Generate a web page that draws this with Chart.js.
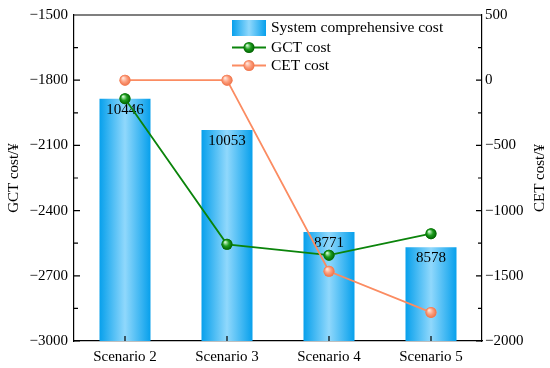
<!DOCTYPE html>
<html>
<head>
<meta charset="utf-8">
<script src="https://cdn.jsdelivr.net/npm/chart.js@4"></script>
<style>
  html, body { margin: 0; padding: 0; background: #fff; }
  #wrap { width: 550px; height: 368px; position: relative; }
</style>
</head>
<body>
<div id="wrap"><canvas id="chartCost"></canvas></div>
<script>
// data
const categories = ['Scenario 2', 'Scenario 3', 'Scenario 4', 'Scenario 5'];
const systemCost = [10446, 10053, 8771, 8578];
const gctCost = [-1885, -2555, -2605, -2506];
const cetCost = [0, 0, -1465, -1781];
const gctTicks = [-3000, -2700, -2400, -2100, -1800, -1500];
const cetTicks = [-2000, -1500, -1000, -500, 0, 500];
const barRange = [7400, 11500];

const FONT = '"Liberation Serif", "Times New Roman", serif';
const GREEN = '#0b840b';
const ORANGE = '#fb8c62';

function barGradient(ctx, left, right) {
    const g = ctx.createLinearGradient(left, 0, right, 0);
    g.addColorStop(0, '#07a0ec');
    g.addColorStop(0.5, '#90d8fc');
    g.addColorStop(1, '#07a0ec');
    return g;
}

function drawBall(ctx, x, y, r, cols) {
    const g = ctx.createRadialGradient(x - r * 0.35, y - r * 0.4, r * 0.1, x, y, r);
    g.addColorStop(0, cols[0]);
    g.addColorStop(0.5, cols[1]);
    g.addColorStop(1, cols[2]);
    ctx.fillStyle = g;
    ctx.beginPath();
    ctx.arc(x, y, r, 0, Math.PI * 2);
    ctx.fill();
}

const greenBall = ['#c8f5c8', '#1d9d1d', '#006000'];
const orangeBall = ['#ffe2d6', '#fd9f7e', '#ee7248'];

const fmt = v => String(v).replace('-', '\u2212');

const decor = {
    id: 'decor',
    afterDatasetDraw(chart, args) {
        const ctx = chart.ctx;
        ctx.save();
        if (args.index === 0) {
            // value labels inside bars, under the lines
            ctx.font = '15px ' + FONT;
            ctx.fillStyle = '#000';
            ctx.textAlign = 'center';
            ctx.textBaseline = 'middle';
            args.meta.data.forEach((bar, i) => {
                ctx.fillText(String(systemCost[i]), bar.x, bar.y + 11);
            });
        } else {
            // shaded spheres over the point markers
            const cols = args.index === 1 ? greenBall : orangeBall;
            args.meta.data.forEach(pt => drawBall(ctx, pt.x, pt.y, 5.5, cols));
        }
        ctx.restore();
    },
    afterDraw(chart) {
        const ctx = chart.ctx;
        const a = chart.chartArea;
        const sy = chart.scales.y, sr = chart.scales.yR, sx = chart.scales.x;
        ctx.save();
        ctx.strokeStyle = '#000';
        ctx.lineWidth = 1.2;
        ctx.beginPath();
        // frame top
        ctx.moveTo(a.left, a.top); ctx.lineTo(a.right, a.top);
        // inward ticks
        const gStep = gctTicks[1] - gctTicks[0];
        gctTicks.forEach((v, i) => {
            const p = sy.getPixelForValue(v);
            ctx.moveTo(a.left, p); ctx.lineTo(a.left + 6, p);
            if (i < gctTicks.length - 1) {
                const m = sy.getPixelForValue(v + gStep / 2);
                ctx.moveTo(a.left, m); ctx.lineTo(a.left + 4, m);
            }
        });
        const cStep = cetTicks[1] - cetTicks[0];
        cetTicks.forEach((v, i) => {
            const p = sr.getPixelForValue(v);
            ctx.moveTo(a.right, p); ctx.lineTo(a.right - 6, p);
            if (i < cetTicks.length - 1) {
                const m = sr.getPixelForValue(v + cStep / 2);
                ctx.moveTo(a.right, m); ctx.lineTo(a.right - 4, m);
            }
        });
        categories.forEach((c, i) => {
            const p = sx.getPixelForValue(i);
            ctx.moveTo(p, a.bottom); ctx.lineTo(p, a.bottom - 5);
        });
        ctx.stroke();

        // axis titles
        const midY = (a.top + a.bottom) / 2;
        ctx.fillStyle = '#000';
        ctx.font = '15px ' + FONT;
        ctx.textAlign = 'center';
        ctx.textBaseline = 'middle';
        ctx.save();
        ctx.translate(14, midY); ctx.rotate(-Math.PI / 2);
        ctx.fillText('GCT cost/\u00a5', 0, 0);
        ctx.restore();
        ctx.save();
        ctx.translate(540, midY); ctx.rotate(-Math.PI / 2);
        ctx.fillText('CET cost/\u00a5', 0, 0);
        ctx.restore();

        // legend
        const lx = 232, lw = 34, tx = 271;
        ctx.fillStyle = barGradient(ctx, lx, lx + lw);
        ctx.fillRect(lx, 20, lw, 16);
        const rows = [
            { y: 47.5, col: GREEN, balls: greenBall },
            { y: 65.5, col: ORANGE, balls: orangeBall }
        ];
        rows.forEach(r => {
            ctx.strokeStyle = r.col;
            ctx.lineWidth = 1.8;
            ctx.beginPath();
            ctx.moveTo(lx, r.y); ctx.lineTo(lx + lw, r.y);
            ctx.stroke();
            drawBall(ctx, lx + lw / 2, r.y, 5.5, r.balls);
        });
        ctx.fillStyle = '#000';
        ctx.font = '15.5px ' + FONT;
        ctx.textAlign = 'left';
        ctx.fillText('System comprehensive cost', tx, 28);
        ctx.fillText('GCT cost', tx, 47.5);
        ctx.fillText('CET cost', tx, 65.5);
        ctx.restore();
    }
};

const tickFont = { family: FONT, size: 15 };
const axisBorder = { display: true, color: '#000', width: 1.2 };

new Chart(document.getElementById('chartCost'), {
    data: {
        labels: categories,
        datasets: [
            {
                type: 'bar',
                label: 'System comprehensive cost',
                data: systemCost,
                yAxisID: 'yBar',
                order: 3,
                barPercentage: 0.5,
                categoryPercentage: 1,
                borderWidth: 0,
                backgroundColor: (c) => {
                    const ch = c.chart;
                    const xs = ch.scales.x;
                    if (c.type !== 'data' || !xs) return '#07a0ec';
                    const xc = xs.getPixelForValue(c.dataIndex);
                    const w = xs.width / categories.length * 0.5;
                    if (!Number.isFinite(xc) || !Number.isFinite(w)) return '#07a0ec';
                    return barGradient(ch.ctx, xc - w / 2, xc + w / 2);
                }
            },
            {
                type: 'line',
                label: 'GCT cost',
                data: gctCost,
                yAxisID: 'y',
                order: 2,
                borderColor: GREEN,
                borderWidth: 1.8,
                pointRadius: 5.5,
                pointBorderWidth: 0,
                pointBackgroundColor: greenBall[1],
                tension: 0
            },
            {
                type: 'line',
                label: 'CET cost',
                data: cetCost,
                yAxisID: 'yR',
                order: 1,
                borderColor: ORANGE,
                borderWidth: 1.8,
                pointRadius: 5.5,
                pointBorderWidth: 0,
                pointBackgroundColor: orangeBall[1],
                tension: 0
            }
        ]
    },
    options: {
        responsive: true,
        maintainAspectRatio: false,
        animation: false,
        layout: { padding: { top: 14 } },
        plugins: {
            legend: { display: false },
            tooltip: { enabled: false }
        },
        scales: {
            x: {
                offset: true,
                grid: { display: false, drawTicks: false },
                border: axisBorder,
                ticks: { font: tickFont, color: '#000', padding: 7, maxRotation: 0 },
                afterFit(s) { s.height = 27; }
            },
            y: {
                position: 'left',
                min: gctTicks[0],
                max: gctTicks[gctTicks.length - 1],
                grid: { display: false, drawTicks: false },
                border: axisBorder,
                ticks: { stepSize: gctTicks[1] - gctTicks[0], font: tickFont, color: '#000', padding: 6, callback: fmt },
                afterFit(s) { s.width = 74; }
            },
            yR: {
                position: 'right',
                min: cetTicks[0],
                max: cetTicks[cetTicks.length - 1],
                grid: { display: false, drawTicks: false },
                border: axisBorder,
                ticks: { stepSize: cetTicks[1] - cetTicks[0], font: tickFont, color: '#000', padding: 3, callback: fmt },
                afterFit(s) { s.width = 68; }
            },
            yBar: {
                display: false,
                min: barRange[0],
                max: barRange[1]
            }
        }
    },
    plugins: [decor]
});
</script>
</body>
</html>
